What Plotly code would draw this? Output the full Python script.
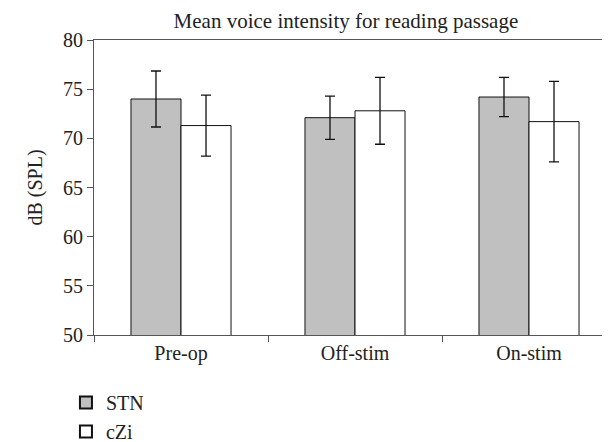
import plotly.graph_objects as go

# ── Data ──────────────────────────────────────────────────────────────────────
conditions = ["Pre-op", "Off-stim", "On-stim"]
stn_mean = [74.0, 72.1, 74.2]
stn_err = [2.85, 2.2, 2.0]
czi_mean = [71.3, 72.8, 71.7]
czi_err = [3.1, 3.4, 4.1]
y_ticks = [50, 55, 60, 65, 70, 75, 80]

_FONT = "Liberation Serif, Times New Roman, serif"
_AXCOL = "#555555"

fig = go.Figure()
fig.add_trace(go.Bar(
    x=conditions, y=stn_mean, name="STN",
    marker=dict(color="#C0C0C0", line=dict(color="#111111", width=1)),
    error_y=dict(type="data", array=stn_err, color="#111111", thickness=1.3, width=5),
))
fig.add_trace(go.Bar(
    x=conditions, y=czi_mean, name="cZi",
    marker=dict(color="#FFFFFF", line=dict(color="#111111", width=1)),
    error_y=dict(type="data", array=czi_err, color="#111111", thickness=1.3, width=5),
))

# y-axis title as a rotated annotation (axis automargin is off)
fig.add_annotation(
    text="dB (SPL)", textangle=-90, showarrow=False,
    xref="paper", yref="paper", x=(27 - 86) / 522, y=0.5,
    xanchor="center", yanchor="middle", font=dict(size=20),
)

fig.update_layout(
    width=610, height=442,
    paper_bgcolor="white", plot_bgcolor="white",
    font=dict(family=_FONT, size=20, color="#222222"),
    margin=dict(l=86, r=2, t=32, b=115, autoexpand=False),
    barmode="group", bargap=0.425, bargroupgap=0,
    title=dict(text="Mean voice intensity for reading passage", x=0.554, xanchor="center",
               y=0.972, yanchor="middle", font=dict(size=21)),
    showlegend=True,
    legend=dict(
        xref="container", yref="container", x=0.095, y=1 - 375 / 442,
        xanchor="left", yanchor="top", orientation="v",
        font=dict(size=20), tracegroupgap=0, itemsizing="constant",
    ),
    xaxis=dict(
        showline=True, linecolor=_AXCOL, linewidth=1, mirror=True,
        ticks="outside", tickson="boundaries", ticklen=6, tickcolor=_AXCOL,
        showgrid=False, automargin=False,
    ),
    yaxis=dict(
        range=[50, 80], tickvals=y_ticks,
        showline=True, linecolor=_AXCOL, linewidth=1, mirror=True,
        ticks="outside", ticklen=6, tickcolor=_AXCOL, showgrid=False, zeroline=False,
        automargin=False,
    ),
)

fig.write_html("out.html")
